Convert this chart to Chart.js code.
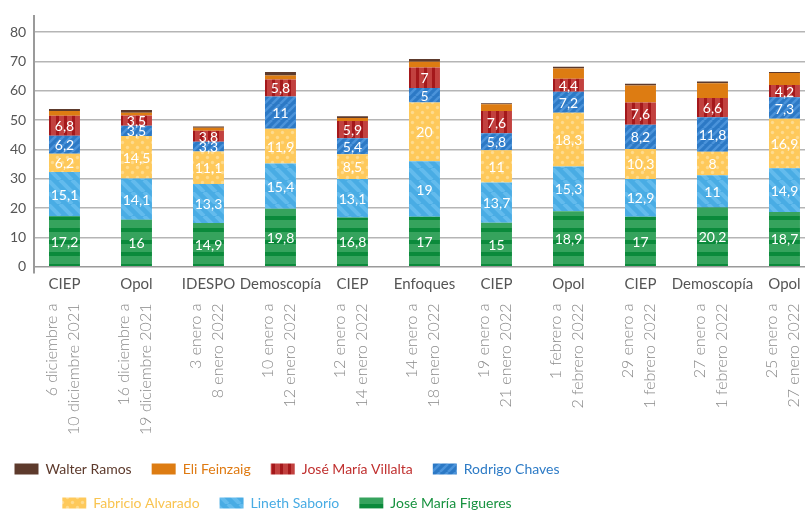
<!DOCTYPE html>
<html><head><meta charset="utf-8">
<script src="https://cdn.jsdelivr.net/npm/chart.js@4.4.1/dist/chart.umd.min.js"></script>
<style>html,body{margin:0;padding:0;overflow:hidden;background:#fff}#wrap{position:relative;width:805px;height:520px}</style>
</head><body><div id="wrap"><canvas id="c"></canvas></div>
<script>
// ---- data ----
const sources = ['CIEP','Opol','IDESPO','Demoscopía','CIEP','Enfoques','CIEP','Opol','CIEP','Demoscopía','Opol'];
const datesStart = ['6 diciembre a','16 diciembre a','3 enero a','10 enero a','12 enero a','14 enero a','19 enero a','1 febrero a','29 enero a','27 enero a','25 enero a'];
const datesEnd = ['10 diciembre 2021','19 diciembre 2021','8 enero 2022','12 enero 2022','14 enero 2022','18 enero 2022','21 enero 2022','2 febrero 2022','1 febrero 2022','1 febrero 2022','27 enero 2022'];
const seriesNames = ['José María Figueres','Lineth Saborío','Fabricio Alvarado','Rodrigo Chaves','José María Villalta','Eli Feinzaig','Walter Ramos'];
const figueres = [17.2,16,14.9,19.8,16.8,17,15,18.9,17,20.2,18.7];
const saborio  = [15.1,14.1,13.3,15.4,13.1,19,13.7,15.3,12.9,11,14.9];
const alvarado = [6.2,14.5,11.1,11.9,8.5,20,11,18.3,10.3,8,16.9];
const chaves   = [6.2,3.5,3.3,11,5.4,5,5.8,7.2,8.2,11.8,7.3];
const villalta = [6.8,3.5,3.8,5.8,5.9,7,7.6,4.4,7.6,6.6,4.2];
const feinzaig = [1.6,0.9,1.0,1.3,1.0,1.9,2.3,3.5,5.8,5.0,4.1];
const ramos    = [0.7,1.0,0.4,1.2,0.6,1.0,0.4,0.6,0.6,0.6,0.3];
const seriesValues = [figueres,saborio,alvarado,chaves,villalta,feinzaig,ramos];
const labeledSeries = 5;
const yTickStep = 10;

// ---- styles ----
function makeTile(w,h,draw){const c=document.createElement('canvas');c.width=w;c.height=h;const g=c.getContext('2d');draw(g,w,h);return g.createPattern(c,'repeat');}
const pGreen = makeTile(4,12,(g,w,h)=>{g.fillStyle='#36a35d';g.fillRect(0,0,w,h);g.fillStyle='#0b8a3b';g.fillRect(0,0,w,4);});
const pLight = makeTile(12,12,(g,w,h)=>{g.fillStyle='#49ace4';g.fillRect(0,0,w,h);g.strokeStyle='#63bbed';g.lineWidth=4;for(let k=-1;k<=1;k++){g.beginPath();g.moveTo(k*w,0);g.lineTo(k*w+w,h);g.stroke();}});
const pYellow = makeTile(10,10,(g,w,h)=>{g.fillStyle='#fec95b';g.fillRect(0,0,w,h);g.fillStyle='#fedb8e';[[2.5,2.5],[7.5,7.5]].forEach(([x,y])=>{g.beginPath();g.arc(x,y,1.7,0,Math.PI*2);g.fill();});});
const pBlue = makeTile(8,8,(g,w,h)=>{g.fillStyle='#2c79c5';g.fillRect(0,0,w,h);g.strokeStyle='#4b93da';g.lineWidth=2.5;for(let k=-1;k<=1;k++){g.beginPath();g.moveTo(k*w,h);g.lineTo(k*w+w,0);g.stroke();}});
const pRed = makeTile(8,4,(g,w,h)=>{g.fillStyle='#c2413f';g.fillRect(0,0,w,h);g.fillStyle='#a4181b';g.fillRect(0,0,3,h);});
const fills = [pGreen,pLight,pYellow,pBlue,pRed,'#dd7c12','#5d3a2c'];
const textColors = ['#17923f','#48ace4','#f9c450','#2d7bc6','#c0302f','#df7a12','#5d3a2c'];

const segLabels = {
  id:'segLabels',
  afterDatasetsDraw(chart){
    const ctx=chart.ctx; ctx.save();
    ctx.font='14px Lato'; ctx.fillStyle='#fff'; ctx.textAlign='center'; ctx.textBaseline='middle';
    for(let d=0; d<labeledSeries; d++){
      const meta=chart.getDatasetMeta(d);
      meta.data.forEach((el,i)=>{
        const p=el.getProps(['x','y','base'],true);
        ctx.fillText(String(seriesValues[d][i]).replace('.',','), p.x, (p.y+p.base)/2+1);
      });
    }
    ctx.restore();
  }
};
const legendPlace = {
  id:'legendPlace',
  afterUpdate(chart){
    const lg=chart.legend; if(!lg) return;
    const L=-23, R=597;
    lg.maxWidth=R-L; lg.fit(); lg.left=L; lg.right=R; lg.width=R-L; lg.adjustHitBoxes();
  }
};

const xTicks = ax => { ax.ticks = sources.map((_,i)=>({value:i})); };
const noSidePad = ax => { ax.paddingLeft = 0; ax.paddingRight = 0; };

new Chart(document.getElementById('c'), {
  type:'bar',
  data:{
    datasets: seriesValues.map((vals,s)=>({
      label: seriesNames[s],
      data: vals.map((v,i)=>({x:i,y:v})),
      backgroundColor: fills[s],
      borderWidth:0,
      barPercentage:0.43,
      categoryPercentage:1
    }))
  },
  options:{
    responsive:true, maintainAspectRatio:false, animation:false,
    layout:{autoPadding:false, padding:{top:13,left:2,right:0,bottom:0}},
    plugins:{
      tooltip:{enabled:false},
      legend:{
        position:'bottom', reverse:true,
        labels:{
          boxWidth:24, boxHeight:11, padding:20,
          font:{family:'Lato', size:14},
          generateLabels(chart){
            const items = Chart.defaults.plugins.legend.labels.generateLabels(chart);
            items.forEach(it=>{ it.fontColor = textColors[it.datasetIndex]; it.lineWidth=0; });
            return items;
          }
        }
      }
    },
    scales:{
      x:{
        type:'linear', stacked:true, offset:false, position:'bottom', min:-0.42, max:10.285,
        grid:{display:false, drawTicks:false, offset:false}, border:{display:false},
        afterBuildTicks:xTicks, afterFit:noSidePad,
        ticks:{autoSkip:false, minRotation:0, maxRotation:0, padding:3, color:'#555',
          font:{family:'Lato', size:15}, callback:v=>sources[v]}
      },
      x2:{
        type:'linear', offset:false, position:'bottom', min:-0.42, max:10.285,
        grid:{display:false, drawTicks:false, offset:false}, border:{display:false},
        afterBuildTicks:xTicks, afterFit:noSidePad,
        ticks:{autoSkip:false, minRotation:90, maxRotation:90, padding:7, labelOffset:-13, color:'#8a8a8a',
          font:{family:'Lato', size:16, weight:'300', lineHeight:1.375},
          callback:v=>[datesStart[v], datesEnd[v]]}
      },
      y:{
        stacked:true, min:-2, max:85.4,
        grid:{color:c=>(c.tick && c.tick.value===0)?'#9a9a9a':'#b5b5b5', lineWidth:1.5, drawTicks:false},
        border:{display:true, color:'#9a9a9a', width:2},
        ticks:{stepSize:yTickStep, includeBounds:false, padding:8, color:'#555', font:{family:'Lato', size:14}}
      }
    }
  },
  plugins:[segLabels, legendPlace]
});
</script>
</body></html>
